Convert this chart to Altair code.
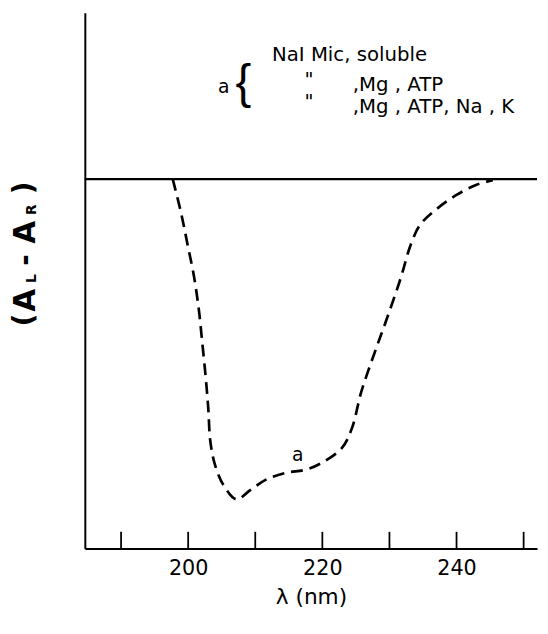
import altair as alt
import pandas as pd

# Curve "a", arbitrary CD units
wavelength = [197.7, 198.9, 199.9, 200.9, 201.6, 202.1, 202.6, 203.0, 203.3, 204.0,
              205.3, 207.2, 209.2, 211.6, 214.6, 217.5, 219.9, 222.9, 224.4, 225.8,
              227.8, 229.7, 231.7, 233.2, 234.6, 237.1, 240.0, 242.9, 245.4]
signal = [0.0, -0.33, -0.66, -1.00, -1.33, -1.66, -2.00, -2.33, -2.66, -2.90,
          -3.11, -3.25, -3.16, -3.05, -2.98, -2.95, -2.88, -2.73, -2.53, -2.16,
          -1.76, -1.40, -1.00, -0.66, -0.46, -0.30, -0.16, -0.06, -0.01]
tick_values = [190, 200, 210, 220, 230, 240, 250]
label_values = [200, 220, 240]
legend_lines = ["NaI Mic, soluble", ",Mg , ATP", ",Mg , ATP, Na , K"]

W, H = 459, 544
FONT = "DejaVu Sans"

curve_df = pd.DataFrame({"lam": wavelength, "val": signal})
tick_df = pd.DataFrame({"lam": tick_values})
one = pd.DataFrame({"k": [0]})

xscale = alt.Scale(domain=[184.6, 252], nice=False, zero=False)
yscale = alt.Scale(domain=[-3.75, 1.69], nice=False, zero=False)

curve = alt.Chart(curve_df).mark_line(
    color="black", strokeWidth=2.7, strokeDash=[12, 7], interpolate="catmull-rom"
).encode(
    x=alt.X("lam:Q", scale=xscale,
            axis=alt.Axis(values=label_values, ticks=False, grid=False,
                          domainColor="black", domainWidth=2,
                          labelFont=FONT, labelFontSize=21, labelColor="black",
                          labelPadding=9, title="λ (nm)", titleFont=FONT,
                          titleFontSize=22, titleFontWeight="normal",
                          titleColor="black", titlePadding=9)),
    y=alt.Y("val:Q", scale=yscale,
            axis=alt.Axis(labels=False, ticks=False, grid=False, title=None,
                          domainColor="black", domainWidth=2)),
)

zero = alt.Chart(one).mark_rule(color="black", strokeWidth=2.2).encode(
    y=alt.datum(0, scale=yscale)
)

ticks = alt.Chart(tick_df).mark_rule(color="black", strokeWidth=1.8).encode(
    x=alt.X("lam:Q", scale=xscale),
    y=alt.value(H),
    y2=alt.value(H - 17),
)


def txt(s, x, y, size=20, align="left", baseline="alphabetic", angle=0,
        weight="normal", font=FONT):
    kw = dict(text=s, fontSize=size, align=align, baseline=baseline,
              color="black", fontWeight=weight, font=font)
    if angle:
        kw["angle"] = angle
    return alt.Chart(one).mark_text(**kw).encode(x=alt.value(x), y=alt.value(y))


notes = [
    txt(legend_lines[0], 190, 49),
    txt('"', 223, 74),
    txt(legend_lines[1], 272, 80),
    txt('"', 223, 97),
    txt(legend_lines[2], 272, 102),
    txt("a", 141, 76, size=19, baseline="middle", align="center"),
    txt("{", 161, 73, size=48, baseline="middle", align="center",
        font="Liberation Sans"),
    txt("a", 216, 449, size=19, baseline="middle", align="center"),
    # y-axis title (A_L - A_R), rotated
    txt("(", -61, 312, size=28, align="center", baseline="middle", angle=270, weight="bold"),
    txt("A", -60, 292, size=30, align="center", baseline="middle", angle=270, weight="bold"),
    txt("L", -54, 270, size=14, align="center", baseline="middle", angle=270, weight="bold"),
    txt("-", -60, 251, size=28, align="center", baseline="middle", angle=270, weight="bold"),
    txt("A", -60, 223, size=30, align="center", baseline="middle", angle=270, weight="bold"),
    txt("R", -54, 200, size=14, align="center", baseline="middle", angle=270, weight="bold"),
    txt(")", -61, 178, size=28, align="center", baseline="middle", angle=270, weight="bold"),
]

chart = alt.layer(curve, zero, ticks, *notes).properties(
    width=W, height=H,
    autosize=alt.AutoSizeParams(type="none"),
    padding={"left": 78, "top": 0, "right": 3, "bottom": 82},
    background="white",
).configure_view(stroke=None)

chart.save("out.html", embed_options={"renderer": "svg", "actions": False})
